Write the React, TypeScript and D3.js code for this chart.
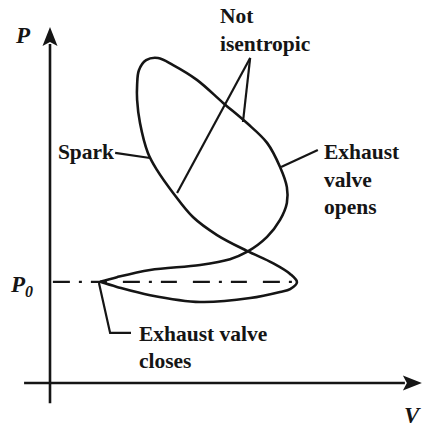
import React from "react";
import * as d3 from "d3";

const W = 423;
const H = 427;

// Traced indicator diagram of the spark-ignition cycle (V and P in arbitrary units)
const cycleV = [
  1.39, 1.86, 2.78, 4.17, 5.0, 5.47, 6.03, 6.39, 6.58, 6.58, 6.39, 6.03, 5.47,
  4.81, 4.08, 3.42, 3.0, 2.67, 2.47, 2.42, 2.42, 2.5, 2.72, 2.97, 3.42, 3.97,
  4.64, 5.47, 6.19, 6.67, 6.86, 6.67, 6.39, 5.56, 4.17, 2.78, 1.86, 1.39,
];
const cycleP = [
  2.81, 2.94, 3.14, 3.28, 3.44, 3.64, 4.06, 4.53, 5.0, 5.44, 6.0, 6.67, 7.22,
  7.78, 8.42, 8.83, 9.03, 8.97, 8.69, 8.28, 7.86, 7.22, 6.39, 5.92, 5.28, 4.61,
  4.11, 3.67, 3.33, 3.03, 2.8, 2.61, 2.53, 2.36, 2.25, 2.44, 2.67, 2.81,
];

// Atmospheric pressure line
const p0 = 2.81;
const p0LineV = [0.08, 6.86];

// Leader lines for the annotations, as polylines in (V, P)
const leaderNames = ["spark", "notIsen1", "notIsen2", "evo", "evc"];
const leaderV = [
  [1.81, 2.78],
  [5.56, 5.36],
  [5.56, 3.53],
  [7.44, 6.42],
  [1.36, 1.67, 2.25],
];
const leaderP = [
  [6.39, 6.25],
  [9.03, 7.25],
  [9.03, 5.28],
  [6.47, 6.0],
  [2.78, 1.39, 1.39],
];

// Annotation text (each entry is one label, one string per line)
const labelLines = [
  ["Not", "isentropic"],
  ["Spark"],
  ["Exhaust", "valve", "opens"],
  ["Exhaust valve", "closes"],
];
const labelV = [4.72, 0.22, 7.61, 2.47];
const labelP = [9.99, 6.22, 6.22, 1.17];

const ink = "#151515";
const serif = "Liberation Serif, Tinos, Times New Roman, DejaVu Serif, serif";

export default function App() {
  const x = d3.scaleLinear().domain([0, 10]).range([50, 410]);
  const y = d3.scaleLinear().domain([0, 10]).range([383, 23]);

  const cyclePts: [number, number][] = cycleV.map((v, i) => [v, cycleP[i]]);
  const cycleLine = d3
    .line<[number, number]>()
    .x((d) => x(d[0]))
    .y((d) => y(d[1]))
    .curve(d3.curveCatmullRom.alpha(0.5));

  const leaderLine = d3
    .line<[number, number]>()
    .x((d) => x(d[0]))
    .y((d) => y(d[1]));

  // axis geometry
  const x0 = x(0);
  const y0 = y(0);
  const yTop = y(9.89);
  const yBottom = y(-0.56);
  const xLeft = x(-0.72);
  const xRight = x(10.33);
  const ah = 19; // arrowhead length
  const aw = 7.5; // arrowhead half-width

  const lineGap = 27.5;

  return (
    <svg
      width={W}
      height={H}
      viewBox={`0 0 ${W} ${H}`}
      style={{ position: "absolute", left: 0, top: 0, background: "#fff" }}
    >
      <rect width={W} height={H} fill="#fff" />

      {/* axes */}
      <line x1={x0} y1={yBottom} x2={x0} y2={yTop + ah - 2} stroke={ink} strokeWidth={2.6} />
      <path
        d={`M${x0},${yTop} L${x0 + aw},${yTop + ah} L${x0},${yTop + ah - 4} L${x0 - aw},${yTop + ah} Z`}
        fill={ink}
      />
      <line x1={xLeft} y1={y0} x2={xRight - ah + 2} y2={y0} stroke={ink} strokeWidth={2.6} />
      <path
        d={`M${xRight},${y0} L${xRight - ah},${y0 - aw} L${xRight - ah + 4},${y0} L${xRight - ah},${y0 + aw} Z`}
        fill={ink}
      />

      {/* P0 dash-dot line */}
      <line
        x1={x(p0LineV[0])}
        x2={x(p0LineV[1])}
        y1={y(p0)}
        y2={y(p0)}
        stroke={ink}
        strokeWidth={2.4}
        strokeDasharray="17 9 3 9 16 16"
      />

      {/* cycle trace */}
      <path
        d={cycleLine(cyclePts) || ""}
        fill="none"
        stroke={ink}
        strokeWidth={2.6}
        strokeLinejoin="round"
      />

      {/* leader lines */}
      {leaderNames.map((name, i) => (
        <path
          key={name}
          d={leaderLine(leaderV[i].map((v, j) => [v, leaderP[i][j]] as [number, number])) || ""}
          fill="none"
          stroke={ink}
          strokeWidth={2.2}
          strokeLinejoin="miter"
        />
      ))}

      {/* annotation labels */}
      {labelLines.map((lines, i) => (
        <text
          key={i}
          x={x(labelV[i])}
          y={y(labelP[i])}
          style={{ fontFamily: serif, fontWeight: 700, fontSize: "21.5px" }}
          fill={ink}
        >
          {lines.map((ln, j) => (
            <tspan key={j} x={x(labelV[i])} dy={j === 0 ? 0 : lineGap}>
              {ln}
            </tspan>
          ))}
        </text>
      ))}

      {/* axis names */}
      <text x={16} y={43} style={{ fontFamily: serif, fontStyle: "italic", fontWeight: 700, fontSize: "23px" }} fill={ink}>
        P
      </text>
      <text x={11} y={292} style={{ fontFamily: serif, fontStyle: "italic", fontWeight: 700, fontSize: "23px" }} fill={ink}>
        P
        <tspan style={{ fontSize: "16px" }} dy={5}>
          0
        </tspan>
      </text>
      <text x={404} y={423} style={{ fontFamily: serif, fontStyle: "italic", fontWeight: 700, fontSize: "23px" }} fill={ink}>
        V
      </text>
    </svg>
  );
}
